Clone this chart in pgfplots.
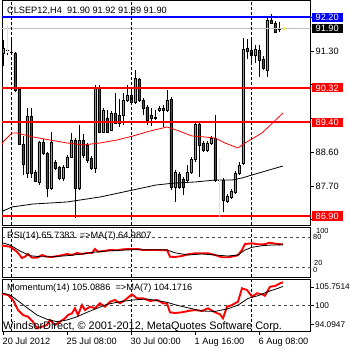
\documentclass[border=0pt]{standalone}
\usepackage{pgfplots}
\pgfplotsset{compat=1.18}
\usepackage{fontspec}
\setmainfont{Liberation Sans}
\definecolor{cgreen}{RGB}{0,255,0}
\definecolor{cred}{RGB}{255,0,0}
\definecolor{cblue}{RGB}{0,0,255}
\definecolor{cgray}{RGB}{192,192,192}
\definecolor{cyel}{RGB}{255,255,0}
\newcommand\fs{\fontsize{9.2}{10}\selectfont}
\newcommand\fss{\fontsize{7.4}{8}\selectfont}
% \candle{index}{open}{high}{low}{close}
\newcommand\candle[5]{%
  \pgfmathsetmacro\cxl{#1-0.28}%
  \pgfmathsetmacro\cxr{#1+0.28}%
  \ifdim #5pt<#2pt \def\cfill{cred}\else\def\cfill{cgreen}\fi
  \edef\cdo{%
    \noexpand\addplot[black, line width=0.75pt, forget plot] coordinates {(#1,#4) (#1,#3)};%
    \noexpand\addplot[draw=black, line width=0.75pt, fill=\cfill, forget plot] coordinates {(\cxl,#2) (\cxr,#2) (\cxr,#5) (\cxl,#5) (\cxl,#2)};%
  }\cdo}
\pgfplotsset{
  mtpanel/.style={scale only axis, anchor=north west, width=308.5pt,
    xmin=-0.25, xmax=76.875, axis line style={black, line width=0.8pt},
    tick style={black, line width=0.6pt}, tick align=outside, major tick length=3pt,
    every tick label/.append style={font=\fs}, xtick=\empty},
}
\begin{document}
\begin{tikzpicture}
\fill[white] (0,0) rectangle (350pt,350pt);
\useasboundingbox (0,0) rectangle (350pt,350pt);
% ---------------- main price panel ----------------
\begin{axis}[mtpanel, at={(2pt,349.5pt)}, height=225pt,
  ymin=86.648, ymax=92.648,
  ytick={86.8,87.7,88.6,89.5,90.4,91.3,92.2},
  yticklabels={,87.70,88.60,,,91.30,},
  ytick pos=right, yticklabel pos=right,
  yticklabel style={anchor=west, inner xsep=0pt, xshift=2pt}]
\candle{0}{91.248}{91.595}{90.901}{91.381}
\candle{1}{91.328}{91.461}{91.195}{91.315}
\candle{2}{91.275}{91.648}{91.221}{91.261}
\candle{3}{91.248}{91.275}{90.208}{90.261}
\candle{4}{90.288}{90.341}{88.795}{88.821}
\candle{5}{88.821}{89.035}{87.995}{88.288}
\candle{6}{88.048}{89.781}{87.915}{89.568}
\candle{7}{89.568}{89.781}{87.915}{88.048}
\candle{8}{88.075}{88.128}{87.808}{87.835}
\candle{9}{87.808}{88.901}{87.728}{88.875}
\candle{10}{88.875}{88.955}{88.528}{88.581}
\candle{11}{88.581}{88.608}{87.408}{87.648}
\candle{12}{87.648}{89.141}{87.595}{88.875}
\candle{13}{88.341}{88.395}{88.128}{88.181}
\candle{14}{88.208}{88.235}{87.861}{87.915}
\candle{15}{87.915}{88.261}{87.835}{88.208}
\candle{16}{88.208}{88.528}{88.181}{88.475}
\candle{17}{88.475}{89.115}{88.448}{88.928}
\candle{18}{88.928}{88.981}{86.848}{87.648}
\candle{19}{87.648}{89.328}{87.595}{88.928}
\candle{20}{88.928}{89.088}{88.448}{88.528}
\candle{21}{88.795}{88.848}{88.315}{88.395}
\candle{22}{88.448}{88.501}{88.128}{88.181}
\candle{23}{88.181}{90.395}{88.048}{90.315}
\candle{24}{90.315}{90.395}{89.115}{89.141}
\candle{25}{89.141}{89.781}{89.115}{89.728}
\candle{26}{89.515}{89.728}{89.115}{89.141}
\candle{27}{89.195}{89.701}{89.168}{89.648}
\candle{28}{89.648}{90.181}{89.355}{89.381}
\candle{29}{89.595}{90.021}{89.275}{89.381}
\candle{30}{89.595}{90.181}{89.328}{89.995}
\candle{31}{89.995}{90.395}{89.941}{90.128}
\candle{32}{90.128}{90.261}{89.888}{89.941}
\candle{33}{89.941}{90.795}{89.888}{90.581}
\candle{34}{90.555}{90.581}{89.941}{89.995}
\candle{35}{89.995}{90.048}{89.595}{89.781}
\candle{36}{89.808}{89.861}{89.328}{89.461}
\candle{37}{89.595}{89.781}{89.301}{89.515}
\candle{38}{89.515}{89.728}{89.461}{89.541}
\candle{39}{89.728}{89.835}{89.675}{89.781}
\candle{40}{89.781}{89.861}{89.275}{89.728}
\candle{41}{89.728}{90.261}{89.675}{89.995}
\candle{42}{90.021}{90.075}{87.595}{87.675}
\candle{43}{87.675}{88.128}{87.275}{88.075}
\candle{44}{88.021}{88.075}{87.621}{87.675}
\candle{45}{87.888}{87.941}{87.461}{87.675}
\candle{46}{87.861}{88.261}{87.808}{88.075}
\candle{47}{88.075}{88.475}{88.021}{88.421}
\candle{48}{88.421}{89.408}{88.341}{89.355}
\candle{49}{89.355}{89.408}{87.941}{88.795}
\candle{50}{88.848}{88.901}{88.608}{88.661}
\candle{51}{88.661}{88.901}{88.608}{88.848}
\candle{52}{88.848}{89.035}{88.795}{88.981}
\candle{53}{88.981}{89.595}{87.808}{87.861}
\candle{54}{87.861}{87.915}{87.808}{87.861}
\candle{55}{87.861}{87.915}{87.008}{87.328}
\candle{56}{87.301}{87.488}{87.248}{87.435}
\candle{57}{87.408}{87.621}{87.355}{87.568}
\candle{58}{87.541}{88.101}{87.488}{88.048}
\candle{59}{88.048}{88.341}{87.995}{88.261}
\candle{60}{88.315}{91.648}{88.261}{91.355}
\candle{61}{91.381}{91.621}{91.088}{91.301}
\candle{62}{91.328}{91.595}{91.008}{91.195}
\candle{63}{91.195}{91.461}{90.981}{91.355}
\candle{64}{91.328}{91.461}{90.608}{91.061}
\candle{65}{91.088}{91.168}{90.795}{90.848}
\candle{66}{90.795}{92.181}{90.608}{92.128}
\candle{67}{92.128}{92.288}{92.021}{92.048}
\candle{68}{92.048}{92.101}{91.781}{91.808}
\candle{69}{91.870}{92.085}{91.795}{91.865}
% moving averages
\addplot[cred, line width=0.8pt] coordinates {(-0.25,88.80) (0,88.875) (2.25,89.115) (3.5,89.115) (7.5,89.008) (11.75,88.928) (16,88.848) (20,88.795) (24.25,88.848) (28.5,88.928) (32.5,89.035) (36.75,89.168) (41,89.275) (44,89.168) (47.25,89.035) (50.5,89.008) (53,88.981) (55.5,88.848) (58.75,88.715) (60.5,88.848) (64.75,89.115) (70,89.648)};
\addplot[black, line width=0.8pt] coordinates {(-0.25,87.01) (0,87.035) (2.25,87.141) (7.5,87.221) (16,87.275) (24.25,87.408) (32.5,87.595) (38.25,87.728) (43,87.781) (48,87.808) (53,87.861) (57.25,87.861) (59.75,87.915) (62.25,87.995) (70,88.235)};
% horizontal levels
\addplot[cgray, line width=0.8pt] coordinates {(-0.25,91.90) (76.875,91.90)};
\addplot[cblue, line width=2.2pt] coordinates {(-0.25,92.20) (76.875,92.20)};
\addplot[cred, line width=2.2pt] coordinates {(-0.25,90.32) (76.875,90.32)};
\addplot[cred, line width=2.2pt] coordinates {(-0.25,89.40) (76.875,89.40)};
\addplot[cred, line width=2.2pt] coordinates {(-0.25,86.90) (76.875,86.90)};
% period separators
\addplot[black, line width=0.7pt, dash pattern=on 3pt off 2pt] coordinates {(2.2,86.648) (2.2,92.648)};
\addplot[black, line width=0.7pt, dash pattern=on 3pt off 2pt] coordinates {(32,86.648) (32,92.648)};
\addplot[black, line width=0.7pt, dash pattern=on 3pt off 2pt] coordinates {(62.1,86.648) (62.1,92.648)};
% trade markers
\addplot[cyel, line width=0.9pt] coordinates {(1,91.995) (1,91.248)};
\addplot[cyel, line width=0.9pt] coordinates {(54.1,88.448) (54.1,86.875)};
\addplot[only marks, mark=triangle*, mark size=1.6pt, mark options={rotate=-90, fill=cyel, draw=cyel}] coordinates {(70.3,91.90)};
\coordinate (b1) at (axis cs:76.875,92.20);
\coordinate (b2) at (axis cs:76.875,91.90);
\coordinate (b3) at (axis cs:76.875,90.32);
\coordinate (b4) at (axis cs:76.875,89.40);
\coordinate (b5) at (axis cs:76.875,86.90);
\end{axis}
\tikzset{pbox/.style={anchor=west, text=white, font=\fs, inner xsep=4pt, inner ysep=1.3pt, text height=6.7pt, text depth=0pt}}
\node[pbox, fill=cblue] at ([xshift=1pt]b1) {92.20};
\node[pbox, fill=black] at ([xshift=1pt]b2) {91.90};
\node[pbox, fill=cred] at ([xshift=1pt]b3) {90.32};
\node[pbox, fill=cred] at ([xshift=1pt]b4) {89.40};
\node[pbox, fill=cred] at ([xshift=1pt]b5) {86.90};
% ---------------- RSI panel ----------------
\begin{axis}[mtpanel, at={(2pt,122.7pt)}, height=50pt, ymin=0, ymax=100, ytick=\empty]
\addplot[black!70, line width=0.6pt, dash pattern=on 3pt off 3pt] coordinates {(-0.25,80) (76.875,80)};
\addplot[black!70, line width=0.6pt, dash pattern=on 3pt off 3pt] coordinates {(-0.25,20) (76.875,20)};
\addplot[black, line width=0.7pt, dash pattern=on 3pt off 2pt] coordinates {(2.2,0) (2.2,100)};
\addplot[black, line width=0.7pt, dash pattern=on 3pt off 2pt] coordinates {(32,0) (32,100)};
\addplot[black, line width=0.7pt, dash pattern=on 3pt off 2pt] coordinates {(62.1,0) (62.1,100)};
\addplot[cred, line width=1.9pt] coordinates {(-0.25,63.2) (0,63.2) (1.75,61.2) (3.5,51.2) (4.75,38.6) (5.5,41.2) (6.25,46.6) (7.25,39.2) (8.5,39.2) (9.75,44.6) (11,41.2) (12.25,40.6) (13.75,42.6) (15,44.6) (16,46.6) (17.25,44.6) (18.5,48.6) (19.75,46.6) (21,48.6) (22.25,48.6) (23,56.6) (23.75,51.2) (25.25,52.6) (26.75,54.6) (28.5,54) (30,56) (31.75,56.6) (33.75,56.6) (35,54.6) (36.75,54.6) (38.5,54.6) (40,54) (41,54.6) (41.75,41.2) (43,40.6) (44.75,42.6) (46.25,46) (48,48) (49.75,48) (51.25,48) (53,44.6) (54.75,40) (56.25,40) (58,42.6) (58.75,44.6) (59.75,54.6) (60.5,66.6) (62.25,68) (63.75,66) (65.25,66) (66.75,69.2) (68,67.2) (70,65.74)};
\addplot[black, line width=0.8pt] coordinates {(-0.25,68.6) (0,68.6) (1.75,64.6) (4.25,52.6) (6.75,43.2) (9.25,41.2) (12.5,41.2) (16,43.2) (19.25,46) (22.5,50) (26,52.6) (29.25,54) (32.5,55.2) (36,55.2) (39.25,55.2) (41,54.6) (43,49) (46.25,44.6) (49.75,46.6) (53,44.6) (56.25,42.6) (58.75,44.6) (60.5,54.6) (62.25,60) (64.75,63.2) (67.25,64.6) (70,64.98)};
\end{axis}
% ---------------- Momentum panel ----------------
\begin{axis}[mtpanel, at={(2pt,70.7pt)}, height=52.4pt, ymin=94.0947, ymax=105.7514,
  xtick={0,16,32,48,64},
  xticklabels={20 Jul 2012, 25 Jul 08:00, 30 Jul 00:00, 1 Aug 16:00, 6 Aug 08:00},
  xtick pos=bottom, xticklabel style={anchor=north west, inner xsep=0pt, xshift=-0.5pt},
  ytick={95.74,100,104.04}, yticklabels={94.0947,100,105.7514},
  ytick pos=right, yticklabel pos=right,
  yticklabel style={anchor=west, inner xsep=0pt, xshift=1.5pt, font=\fontsize{8.3}{9}\selectfont}]
\addplot[black!70, line width=0.6pt, dash pattern=on 3pt off 3pt] coordinates {(-0.25,100) (76.875,100)};
\addplot[black, line width=0.7pt, dash pattern=on 3pt off 2pt] coordinates {(2.2,94.0947) (2.2,105.7514)};
\addplot[black, line width=0.7pt, dash pattern=on 3pt off 2pt] coordinates {(32,94.0947) (32,105.7514)};
\addplot[black, line width=0.7pt, dash pattern=on 3pt off 2pt] coordinates {(62.1,94.0947) (62.1,105.7514)};
\addplot[cred, line width=1.9pt] coordinates {(-0.25,102.5) (0,102.48) (1.25,102.26) (2.5,101.15) (3.75,98.92) (5,97.81) (6.25,97.43) (7.5,96.32) (8.5,94.85) (9.75,95.21) (11,95.59) (11.75,96.70) (13,95.59) (14.25,96.32) (15.5,97.08) (16.25,97.81) (17.25,98.19) (18,99.30) (18.75,97.81) (19.75,100.03) (20.5,98.92) (21.75,99.66) (23,99.30) (24.25,100.41) (25.5,99.66) (26.75,100.77) (28,101.15) (29.25,100.41) (30.5,101.15) (32.25,102.41) (33.5,101.52) (35,101.52) (36.75,100.92) (38.5,101.15) (40,100.41) (41,100.41) (41.75,98.41) (43,98.25) (44.75,98.41) (46.25,98.70) (48,98.92) (49.75,98.70) (51.25,99.30) (53,98.41) (54.25,97.97) (55,97.08) (56,99.66) (57.25,100.03) (58,100.41) (58.75,100.77) (59.75,103.75) (61,103.37) (62.25,101.88) (63.5,102.64) (64.75,102.41) (65.5,102.10) (66.75,104.11) (68,104.26) (69.25,104.86) (70,105.0886)};
\addplot[black, line width=0.8pt] coordinates {(-0.25,102.7) (0,102.64) (1.75,102.26) (3.5,101.15) (6,99.43) (8.5,97.81) (11,96.85) (13.5,96.32) (16,96.70) (18.5,97.43) (21,98.41) (23.5,99.30) (26,100.19) (29.25,100.77) (32.5,101.15) (36,101.37) (39.25,100.92) (41,100.63) (43,100.1) (46.25,99.4) (49.75,98.7) (53,98.6) (56.25,99.2) (58.75,100.0) (61.25,101.5) (63.75,102.1) (66.25,103.0) (68.75,103.75) (70,104.1716)};
\end{axis}
% ---------------- texts ----------------
\node[anchor=base west, inner sep=0pt, font=\fs] at (7pt,336pt) {CLSEP12,H4\ \ 91.90 91.92 91.89 91.90};
\node[anchor=base west, inner sep=0pt, font=\fs] at (7pt,111pt) {RSI(14) 65.7383\ \ =>MA(7) 64.9807};
\node[anchor=base west, inner sep=0pt, font=\fs] at (7pt,59pt) {Momentum(14) 105.0886\ \ =>MA(7) 104.1716};
\node[anchor=base west, inner sep=0pt, font=\fontsize{10.9}{12}\selectfont] at (3pt,20.5pt) {WindsorDirect, © 2001-2012, MetaQuotes Software Corp.};
\node[anchor=base west, inner sep=0pt, font=\fss] at (316pt,116.6pt) {100};
\node[anchor=base west, inner sep=0pt, font=\fss] at (313pt,110pt) {80};
\node[anchor=base west, inner sep=0pt, font=\fss] at (314pt,84.2pt) {20};
\node[anchor=base west, inner sep=0pt, font=\fss] at (313pt,77.6pt) {0};
\end{tikzpicture}
\end{document}
